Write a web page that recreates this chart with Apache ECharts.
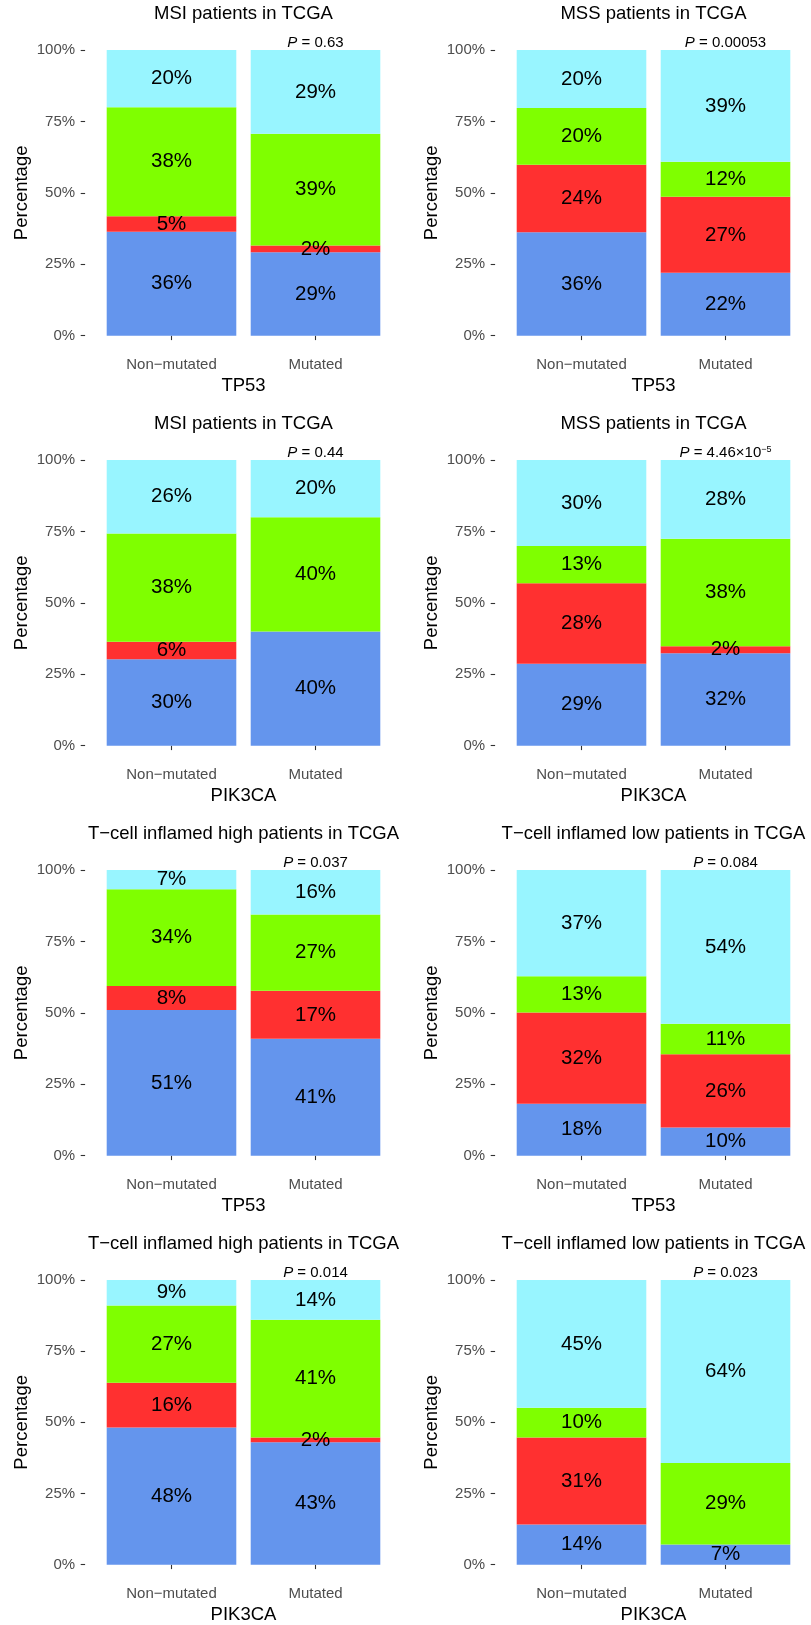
<!DOCTYPE html>
<html>
<head>
<meta charset="utf-8">
<script src="https://cdn.jsdelivr.net/npm/echarts@6/dist/echarts.min.js"></script>
<style>
  html, body { margin: 0; padding: 0; background: #ffffff; }
  #chart { width: 811px; height: 1625px; }
</style>
</head>
<body>
<div id="chart"></div>
<script>
// Mutation status groups on the x axis of every panel
const categories = ['Non\u2212mutated', 'Mutated'];

// Panel titles, row by row (left, right)
const panelTitles = [
  'MSI patients in TCGA', 'MSS patients in TCGA',
  'MSI patients in TCGA', 'MSS patients in TCGA',
  'T\u2212cell inflamed high patients in TCGA', 'T\u2212cell inflamed low patients in TCGA',
  'T\u2212cell inflamed high patients in TCGA', 'T\u2212cell inflamed low patients in TCGA'
];
const geneNames = ['TP53', 'TP53', 'PIK3CA', 'PIK3CA', 'TP53', 'TP53', 'PIK3CA', 'PIK3CA'];

// Fisher test P values shown above the mutated bar (mantissa, optional power of ten)
const pMantissa = ['0.63', '0.00053', '0.44', '4.46', '0.037', '0.084', '0.014', '0.023'];
const pExponent = [null, null, null, -5, null, null, null, null];

// Percentage of patients per subgroup, per panel: [Non-mutated, Mutated]
const blueShare = [[36.4, 29.2], [36.2, 22.0], [30.3, 40.0], [28.7, 32.4], [51.0, 40.9], [18.2, 9.9], [48.2, 43.0], [14.1, 7.1]];
const redShare = [[5.4, 2.4], [23.6, 26.6], [6.1, 0], [28.2, 2.4], [8.4, 16.8], [31.9, 25.6], [15.7, 1.7], [30.6, 0]];
const greenShare = [[38.2, 39.1], [19.9, 12.3], [37.9, 40.0], [13.0, 37.6], [33.9, 26.7], [12.7, 10.7], [27.1, 41.3], [10.4, 28.6]];
const cyanShare = [[20.0, 29.3], [20.3, 39.1], [25.7, 20.0], [30.1, 27.6], [6.7, 15.6], [37.2, 53.8], [9.0, 14.0], [44.9, 64.3]];

// Y axis ticks
const yTicks = [0, 25, 50, 75, 100];

const layers = [
  { name: 'Subgroup 1', color: '#6495ED', values: blueShare },
  { name: 'Subgroup 2', color: '#FF3030', values: redShare },
  { name: 'Subgroup 3', color: '#7FFF00', values: greenShare },
  { name: 'Subgroup 4', color: '#98F5FF', values: cyanShare }
];

const FONT = '"Liberation Sans", Arial, Helvetica, sans-serif';
const ROW_STEP = 410;
const PLOT_TOP = 50;
const PLOT_H = 285.7;
const BAND_W = 144;
const COL_LEFT = [99.5, 509.5];

const grids = [], xAxes = [], yAxes = [], series = [], titles = [];

for (let i = 0; i < panelTitles.length; i++) {
  const row = Math.floor(i / 2), col = i % 2;
  const top = PLOT_TOP + ROW_STEP * row;
  const left = COL_LEFT[col];

  grids.push({ left: left, top: top, width: BAND_W * 2, height: PLOT_H });

  titles.push({
    text: panelTitles[i],
    left: left + BAND_W,
    top: top - 46,
    textAlign: 'center',
    padding: 0,
    textStyle: { fontSize: 18.5, fontWeight: 'normal', color: '#000', fontFamily: FONT, lineHeight: 20 }
  });

  xAxes.push({
    type: 'category',
    gridIndex: i,
    data: categories,
    offset: 14.3,
    axisLine: { show: false },
    axisTick: { show: true, alignWithLabel: true, length: 4.4, lineStyle: { color: '#333333', width: 1.1 } },
    axisLabel: { margin: 7, color: '#4D4D4D', fontSize: 15, fontFamily: FONT },
    name: geneNames[i],
    nameLocation: 'middle',
    nameGap: 26,
    nameTextStyle: { color: '#000', fontSize: 18.5, fontFamily: FONT }
  });

  yAxes.push({
    type: 'value',
    gridIndex: i,
    min: yTicks[0],
    max: yTicks[yTicks.length - 1],
    interval: yTicks[1] - yTicks[0],
    offset: 14.4,
    axisLine: { show: false },
    splitLine: { show: false },
    axisTick: { show: true, length: 4.4, lineStyle: { color: '#333333', width: 1.1 } },
    axisLabel: { formatter: '{value}%', margin: 10, color: '#4D4D4D', fontSize: 15, fontFamily: FONT },
    name: 'Percentage',
    nameLocation: 'middle',
    nameGap: 54,
    nameTextStyle: { color: '#000', fontSize: 18.5, fontFamily: FONT }
  });

  layers.forEach(function (layer, k) {
    const s = {
      name: layer.name,
      type: 'bar',
      xAxisIndex: i,
      yAxisIndex: i,
      stack: 'panel' + i,
      barWidth: '90%',
      itemStyle: { color: layer.color },
      data: layer.values[i],
      label: {
        show: true,
        position: 'inside',
        color: '#000',
        fontSize: 20.5,
        fontFamily: FONT,
        formatter: function (p) { return p.value > 0 ? Math.round(p.value) + '%' : ''; }
      }
    };
    if (k === layers.length - 1) {
      const pText = pExponent[i] === null
        ? '{it|P}{n| = ' + pMantissa[i] + '}'
        : '{it|P}{n| = ' + pMantissa[i] + '\u00d710}{sup|\u2212' + Math.abs(pExponent[i]) + '}';
      s.markPoint = {
        symbol: 'circle',
        symbolSize: 0,
        silent: true,
        data: [{ coord: [1, yTicks[yTicks.length - 1]] }],
        label: {
          show: true,
          position: 'top',
          distance: 0,
          formatter: pText,
          rich: {
            it: { fontStyle: 'italic', fontSize: 15, color: '#000', fontFamily: FONT, lineHeight: 15 },
            n: { fontSize: 15, color: '#000', fontFamily: FONT, lineHeight: 15 },
            sup: { fontSize: 9, color: '#000', fontFamily: FONT, lineHeight: 15, verticalAlign: 'top' }
          }
        }
      };
    }
    series.push(s);
  });
}

const chart = echarts.init(document.getElementById('chart'), null, { renderer: 'canvas' });
chart.setOption({
  backgroundColor: '#ffffff',
  animation: false,
  title: titles,
  grid: grids,
  xAxis: xAxes,
  yAxis: yAxes,
  series: series
});
</script>
</body>
</html>
